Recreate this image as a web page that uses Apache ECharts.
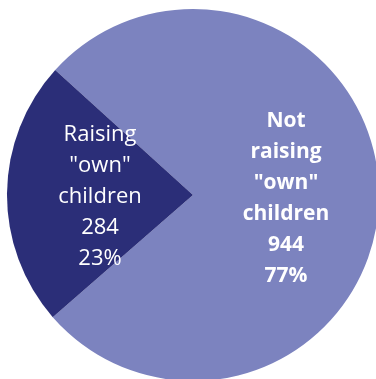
<!DOCTYPE html>
<html>
<head>
<meta charset="utf-8">
<script src="https://cdn.jsdelivr.net/npm/echarts@6/dist/echarts.min.js"></script>
<style>
  html, body { margin: 0; padding: 0; background: #ffffff; }
  #chart { width: 376px; height: 379px; }
</style>
</head>
<body>
<div id="chart"></div>
<script>
const labels = ['Not\nraising\n"own"\nchildren', 'Raising\n"own"\nchildren'];
const counts = [944, 284];
const percents = ['77%', '23%'];
const colors = ['#7c83bf', '#2b2e78'];
const weights = ['bold', 'normal'];
const fontSizes = [21, 22];
const nudges = [[-3, 3], [3, 3]];

const chart = echarts.init(document.getElementById('chart'));
chart.setOption({
  backgroundColor: '#ffffff',
  animation: false,
  series: [
    {
      type: 'pie',
      center: [193, 195],
      radius: [0, 186],
      startAngle: 137.8,
      clockwise: true,
      avoidLabelOverlap: false,
      itemStyle: { borderWidth: 0 },
      label: {
        show: true,
        position: 'inside',
        color: '#ffffff',
        fontFamily: 'Open Sans',
        lineHeight: 31,
        align: 'center',
        formatter: (p) => p.name + '\n' + p.value + '\n' + percents[p.dataIndex],
      },
      labelLine: { show: false },
      data: labels.map((name, i) => ({
        name: name,
        value: counts[i],
        itemStyle: { color: colors[i] },
        label: { fontWeight: weights[i], fontSize: fontSizes[i], offset: nudges[i] },
      })),
    },
  ],
});
</script>
</body>
</html>
